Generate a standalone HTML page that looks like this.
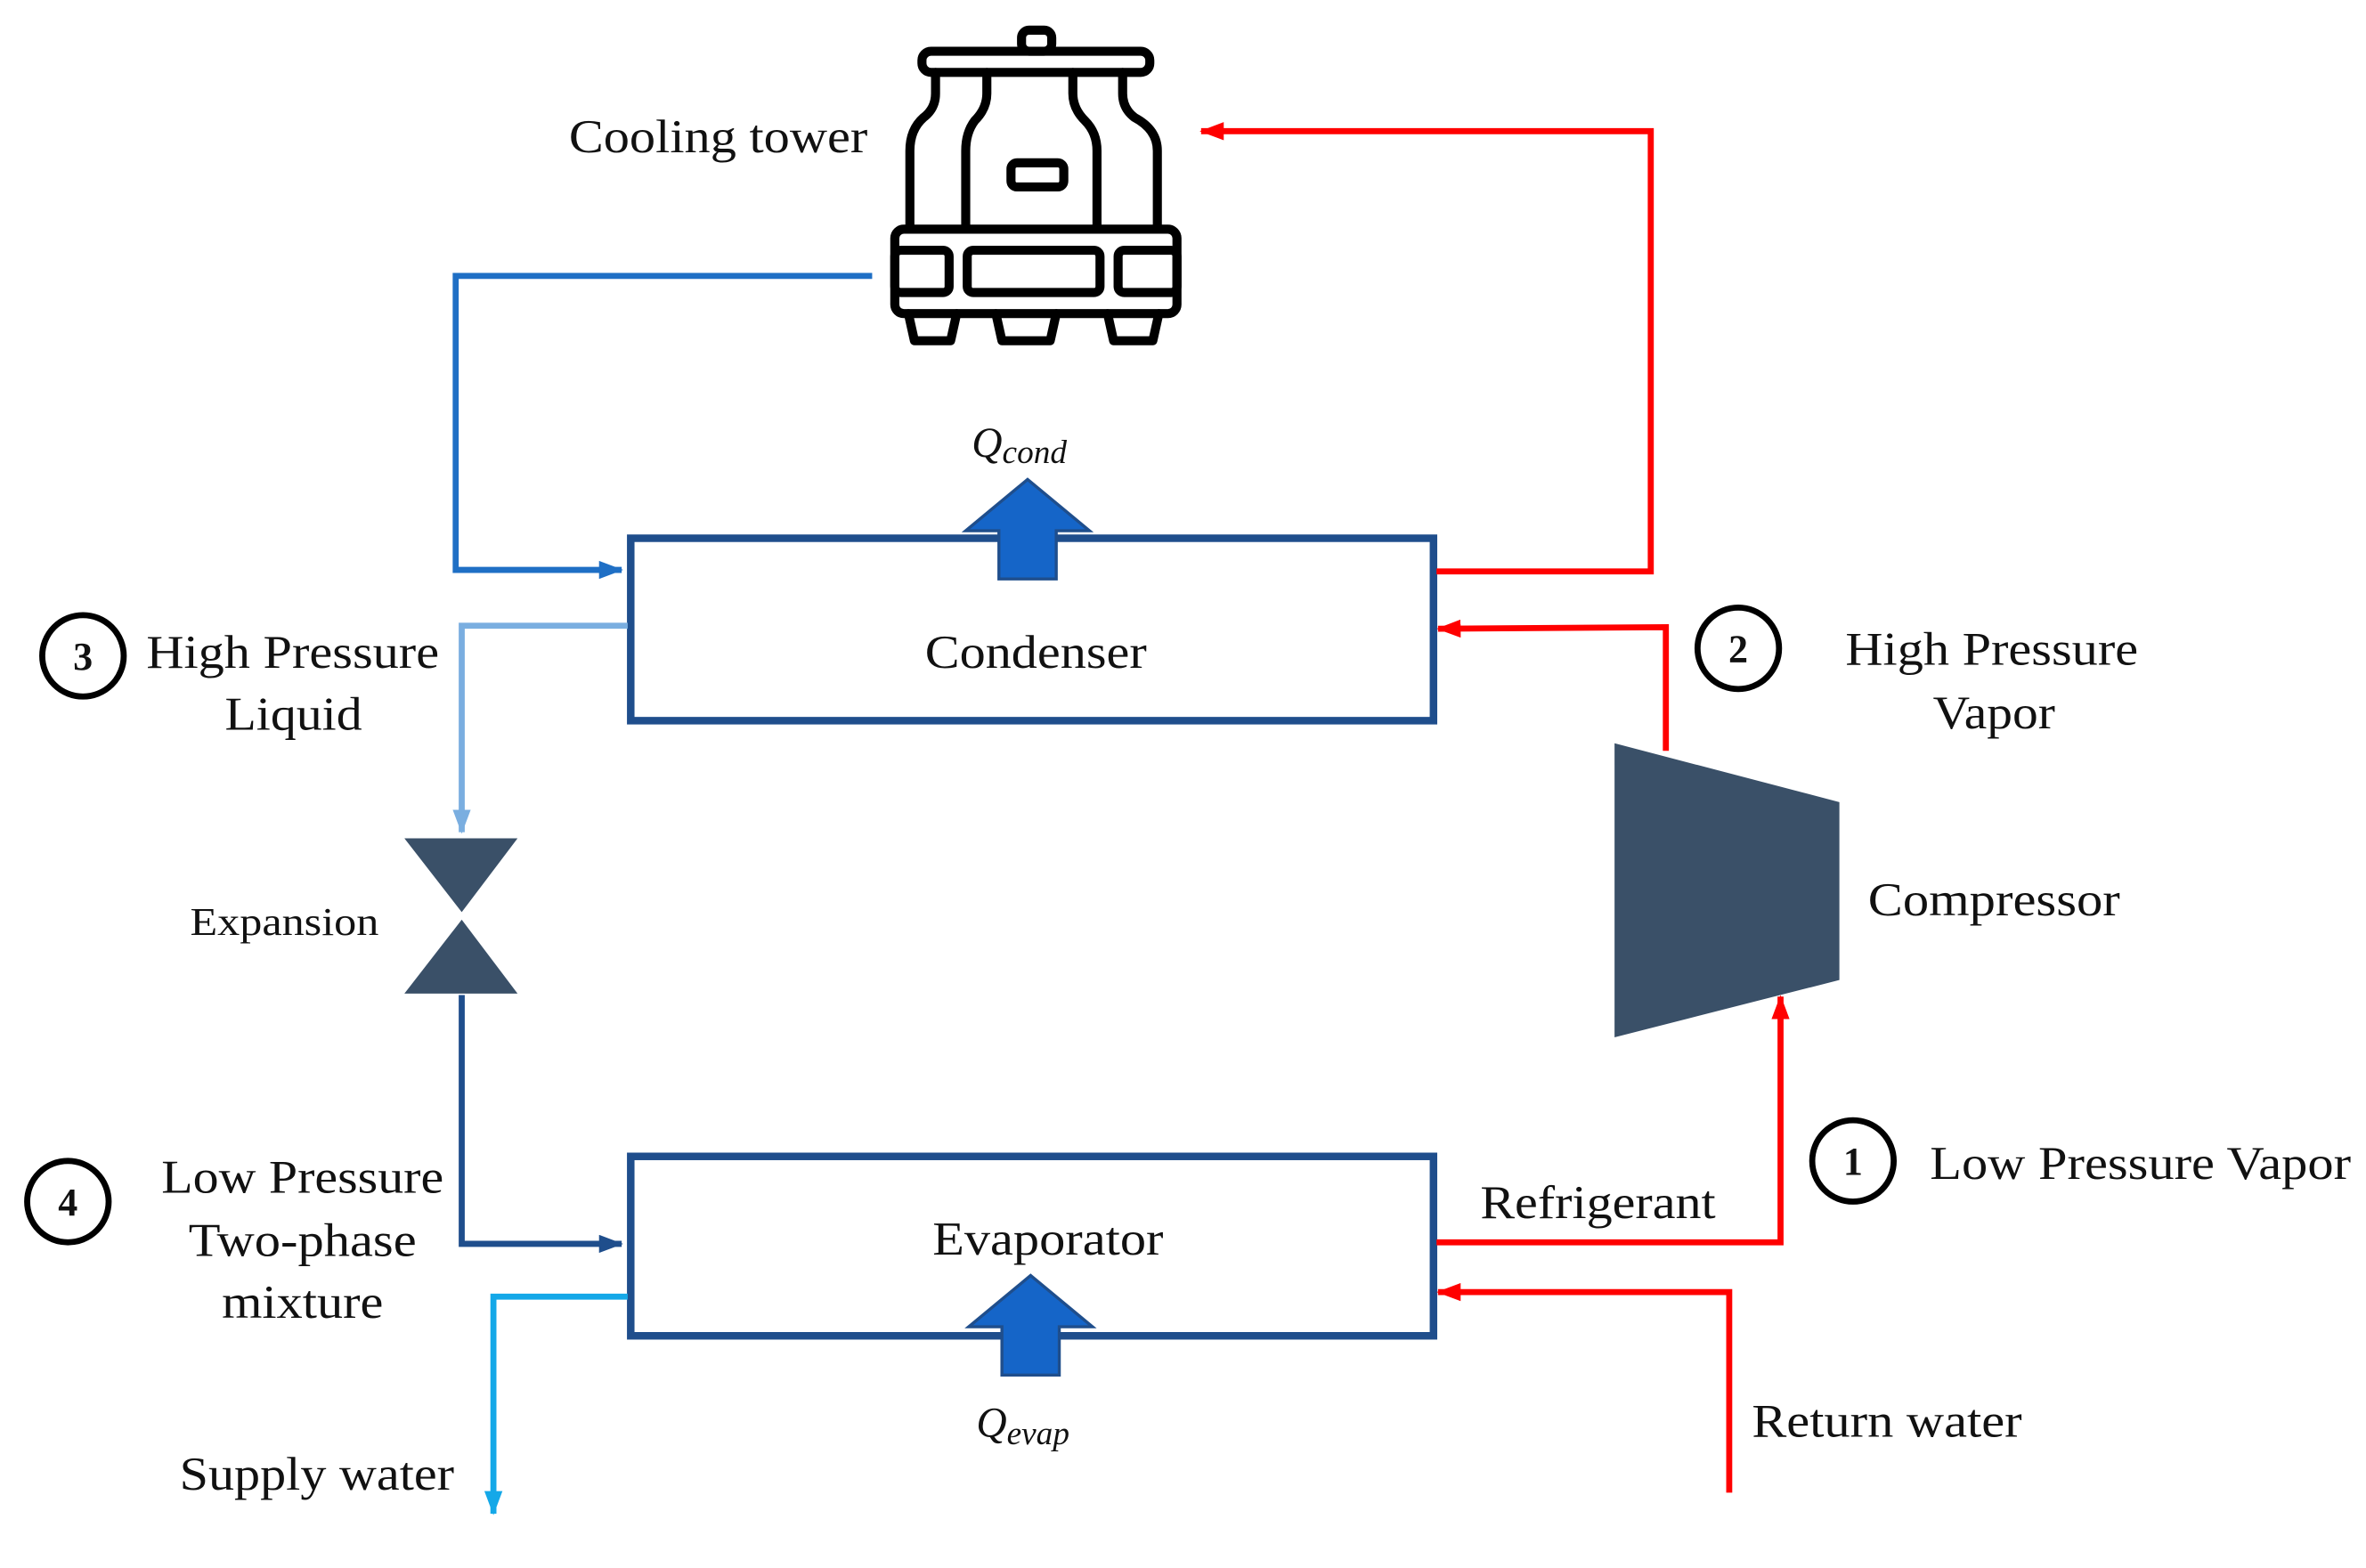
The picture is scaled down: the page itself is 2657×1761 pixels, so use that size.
<!DOCTYPE html>
<html><head><meta charset="utf-8"><style>
html,body{margin:0;padding:0;background:#fff;}
svg{display:block;}
text{font-family:"Liberation Serif",serif;fill:#111;}
</style></head><body>
<svg width="2657" height="1761" viewBox="0 0 1568 1040" preserveAspectRatio="none" xmlns="http://www.w3.org/2000/svg">
<defs>
<marker id="ab" markerWidth="16" markerHeight="12" refX="15" refY="6" orient="auto" markerUnits="userSpaceOnUse"><path d="M0,0 L16,6 L0,12 Z" fill="#1f6fc5"/></marker>
<marker id="al" markerWidth="16" markerHeight="12" refX="15" refY="6" orient="auto" markerUnits="userSpaceOnUse"><path d="M0,0 L16,6 L0,12 Z" fill="#7aaee0"/></marker>
<marker id="ad" markerWidth="16" markerHeight="12" refX="15" refY="6" orient="auto" markerUnits="userSpaceOnUse"><path d="M0,0 L16,6 L0,12 Z" fill="#1f4e8c"/></marker>
<marker id="ac" markerWidth="16" markerHeight="12" refX="15" refY="6" orient="auto" markerUnits="userSpaceOnUse"><path d="M0,0 L16,6 L0,12 Z" fill="#14a8e8"/></marker>
<marker id="ar2" markerWidth="16" markerHeight="12" refX="15" refY="6" orient="auto" markerUnits="userSpaceOnUse"><path d="M0,0 L16,6 L0,12 Z" fill="#f00"/></marker>
</defs>

<g fill="none" stroke="#000" stroke-width="6" stroke-linejoin="round" stroke-linecap="round">
<rect x="677" y="20" width="20" height="14" rx="5"/>
<rect x="611" y="34" width="151" height="14" rx="6"/>
<path d="M620,48 V62 Q620,72 612,78 Q603,86 603,100 V150"/>
<path d="M654,48 V62 Q654,72 646,80 Q640,88 640,100 V150"/>
<path d="M711,48 V62 Q711,72 719,80 Q727,88 727,100 V150"/>
<path d="M744,48 V62 Q744,72 752,78 Q767,86 767,100 V150"/>
<rect x="670" y="108" width="35" height="16" rx="4"/>
<rect x="593" y="152" width="187" height="56" rx="6"/>
<rect x="593" y="166" width="36" height="28" rx="4"/>
<rect x="641" y="166" width="88" height="28" rx="4"/>
<rect x="741" y="166" width="39" height="28" rx="4"/>
<path d="M602,208 L606,226 H630 L634,208"/>
<path d="M660,208 L664,226 H696 L700,208"/>
<path d="M734,208 L738,226 H764 L768,208"/>
</g>

<rect x="418" y="357" width="532" height="121" fill="none" stroke="#1f4e8c" stroke-width="5"/>
<rect x="418" y="767" width="532" height="119" fill="none" stroke="#1f4e8c" stroke-width="5"/>

<path d="M662,384 V352 H640 L681,318 L722,352 H700 V384 Z" fill="#1565c8" stroke="#1f4e8c" stroke-width="2"/>
<path d="M664,912 V880 H642 L683,846 L724,880 H702 V912 Z" fill="#1565c8" stroke="#1f4e8c" stroke-width="2"/>

<path d="M1070,493 L1219,532 V650 L1070,688 Z" fill="#3a5068"/>
<path d="M268,556 H343 L306,605 Z M268,659 H343 L306,610 Z" fill="#3a5068"/>

<polyline points="578,183 302,183 302,378 412,378" fill="none" stroke="#1f6fc5" stroke-width="4" marker-end="url(#ab)"/>
<polyline points="416,415 306,415 306,552" fill="none" stroke="#7aaee0" stroke-width="4" marker-end="url(#al)"/>
<polyline points="306,660 306,825 412,825" fill="none" stroke="#1f4e8c" stroke-width="4" marker-end="url(#ad)"/>
<polyline points="416,860 327,860 327,1004" fill="none" stroke="#14a8e8" stroke-width="4" marker-end="url(#ac)"/>
<polyline points="952,379 1094,379 1094,87 796,87" fill="none" stroke="#f00" stroke-width="4" marker-end="url(#ar2)"/>
<polyline points="1104,498 1104,416 953,417" fill="none" stroke="#f00" stroke-width="4" marker-end="url(#ar2)"/>
<polyline points="952,824 1180,824 1180,661" fill="none" stroke="#f00" stroke-width="4" marker-end="url(#ar2)"/>
<polyline points="1146,990 1146,857 953,857" fill="none" stroke="#f00" stroke-width="4" marker-end="url(#ar2)"/>

<g fill="#fff" stroke="#000" stroke-width="4">
<circle cx="55" cy="435" r="27"/>
<circle cx="1152" cy="430" r="27"/>
<circle cx="1228" cy="770" r="27"/>
<circle cx="45" cy="797" r="27"/>
</g>
<g font-size="26" font-weight="bold" text-anchor="middle">
<text x="55" y="444">3</text>
<text x="1152" y="439">2</text>
<text x="1228" y="779">1</text>
<text x="45" y="806">4</text>
</g>

<g font-size="31" lengthAdjust="spacingAndGlyphs">
<text x="377" y="101" textLength="198" lengthAdjust="spacingAndGlyphs">Cooling tower</text>
<text x="613" y="443" textLength="147" lengthAdjust="spacingAndGlyphs">Condenser</text>
<text x="618" y="832" textLength="153" lengthAdjust="spacingAndGlyphs">Evaporator</text>
<text x="97" y="443" textLength="194" lengthAdjust="spacingAndGlyphs">High Pressure</text>
<text x="149" y="484" textLength="91" lengthAdjust="spacingAndGlyphs">Liquid</text>
<text x="1223" y="441" textLength="194" lengthAdjust="spacingAndGlyphs">High Pressure</text>
<text x="1281" y="483" textLength="81" lengthAdjust="spacingAndGlyphs">Vapor</text>
<text x="1238" y="607" textLength="167" lengthAdjust="spacingAndGlyphs">Compressor</text>
<text x="1279" y="782" textLength="279" lengthAdjust="spacingAndGlyphs">Low Pressure Vapor</text>
<text x="981" y="808" textLength="156" lengthAdjust="spacingAndGlyphs">Refrigerant</text>
<text x="107" y="791" textLength="187" lengthAdjust="spacingAndGlyphs">Low Pressure</text>
<text x="125" y="833" textLength="151" lengthAdjust="spacingAndGlyphs">Two-phase</text>
<text x="147" y="874" textLength="107" lengthAdjust="spacingAndGlyphs">mixture</text>
<text x="119" y="988" textLength="182" lengthAdjust="spacingAndGlyphs">Supply water</text>
<text x="1161" y="953" textLength="179" lengthAdjust="spacingAndGlyphs">Return water</text>
</g>
<text x="126" y="620" font-size="26" textLength="125" lengthAdjust="spacingAndGlyphs">Expansion</text>
<text x="644" y="303" font-size="28" font-style="italic">Q<tspan font-size="22" dy="4">cond</tspan></text>
<text x="647" y="953" font-size="28" font-style="italic">Q<tspan font-size="22" dy="5">evap</tspan></text>
</svg>
</body></html>
